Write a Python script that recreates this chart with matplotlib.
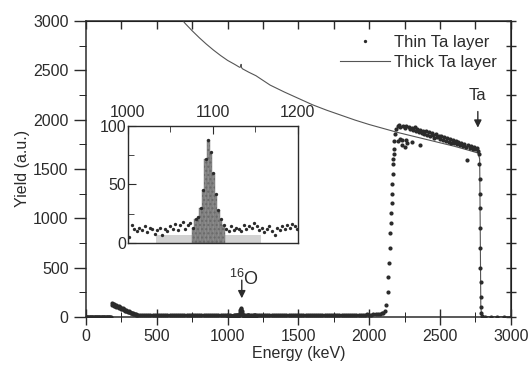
import numpy as np
import matplotlib
matplotlib.use("Agg")
import matplotlib.pyplot as plt
from matplotlib.ticker import MultipleLocator

plt.rcParams['font.family'] = ['Liberation Sans', 'DejaVu Sans']
plt.rcParams['mathtext.fontset'] = 'custom'
plt.rcParams['mathtext.rm'] = 'Liberation Sans'
plt.rcParams['mathtext.it'] = 'Liberation Sans'

INK = '#2b2b2b'

# thin Ta layer (dots), piece by piece
zero_E = np.arange(0, 180, 5)
zero_Y = np.zeros(len(zero_E))

low_E = np.arange(180, 361, 5)
low_Y = [140, 118, 135, 112, 128, 105, 122, 100, 115, 95,
         108, 88, 100, 82, 92, 76, 85, 70, 78, 64,
         70, 58, 62, 52, 55, 46, 48, 40, 42, 35,
         36, 30, 30, 26, 24, 22, 20]

flatA_E = np.arange(365, 1000, 15)
flatA_Y = [22, 18, 20, 17, 21, 16, 19, 18, 15, 20,
           17, 19, 16, 18, 21, 15, 17, 19, 16, 18,
           14, 20, 17, 16, 19, 15, 18, 17, 20, 16,
           14, 18, 19, 15, 17, 16, 20, 18, 15, 17,
           19, 16, 18]

# 16O region (also shown in the inset)
inset_Y = [5, 15, 12, 10, 13, 11, 14, 9, 13, 12,
           8, 11, 13, 7, 12, 10, 14, 12, 16, 11,
           15, 18, 12, 15, 17, 13, 20, 22, 30, 45,
           72, 88, 78, 60, 42, 28, 20, 15, 12, 10,
           14, 11, 13, 12, 10, 15, 12, 14, 13, 17,
           14, 11, 13, 9, 12, 14, 10, 7, 13, 11,
           14, 12, 15, 13, 16, 14, 12]
inset_E = np.arange(1000, 1000 + 3 * len(inset_Y), 3)

flatB_E = np.arange(1205, 2091, 15)
flatB_Y = [16, 19, 15, 18, 17, 20, 16, 18, 14, 19,
           17, 15, 18, 20, 16, 17, 19, 15, 18, 16,
           20, 17, 15, 19, 18, 16, 21, 17, 15, 18,
           19, 16, 17, 20, 18, 15, 19, 17, 16, 21,
           18, 17, 20, 16, 19, 22, 18, 20, 17, 23,
           21, 19, 24, 20, 22, 26, 24, 28, 32, 36]

rise_E = [2100, 2110, 2120, 2130, 2135, 2140, 2145, 2150, 2152, 2155,
          2158, 2160, 2163, 2165, 2168, 2170, 2172, 2175, 2178, 2182]
rise_Y = [40, 60, 120, 250, 400, 550, 700, 850, 950, 1050,
          1150, 1250, 1350, 1450, 1550, 1600, 1650, 1700, 1780, 1850]

plat_E = np.arange(2190, 2771, 10)
plat_Y = [1900, 1935, 1950, 1925, 1790, 1940, 1910, 1935, 1760, 1925,
          1900, 1915, 1890, 1920, 1880, 1905, 1870, 1895, 1860, 1885,
          1850, 1880, 1845, 1870, 1835, 1860, 1840, 1815, 1850, 1820,
          1835, 1800, 1830, 1795, 1820, 1785, 1810, 1775, 1800, 1765,
          1790, 1760, 1780, 1750, 1775, 1740, 1765, 1735, 1755, 1725,
          1590, 1740, 1715, 1735, 1705, 1725, 1700, 1710, 1680]

extra_E = [2205, 2215, 2228, 2252, 2262, 2300, 2357]
extra_Y = [1780, 1800, 1740, 1722, 1790, 1770, 1743]

fall_E = [2775, 2778, 2780, 2781, 2782, 2783, 2784, 2785, 2786, 2787,
          2788, 2790, 2795, 2820, 2860, 2900, 2950, 3000]
fall_Y = [1650, 1550, 1400, 1250, 1100, 900, 700, 500, 350, 200,
          100, 40, 10, 2, 0, 0, 0, 0]

# thick Ta layer (line)
thick_E = [680, 700, 750, 800, 850, 900, 950, 1000, 1050, 1085,
           1092, 1095, 1098, 1105, 1150, 1200, 1300, 1400, 1500, 1600,
           1700, 1800, 1900, 2000, 2100, 2200, 2300, 2400, 2500, 2600,
           2700, 2770, 2780, 2784, 2788, 2795, 2900, 3000]
thick_Y = [3010, 2975, 2900, 2830, 2765, 2705, 2650, 2600, 2560, 2530,
           2535, 2560, 2528, 2515, 2480, 2445, 2350, 2280, 2215, 2150,
           2095, 2045, 1995, 1950, 1910, 1870, 1835, 1800, 1765, 1730,
           1690, 1660, 1600, 900, 100, 5, 0, 0]

# inset shading ranges (background / peak window)
light_ranges = [(1032, 1075), (1112, 1155)]
peak_range = (1075, 1112)
bg_level = 7

thin_E = np.concatenate([zero_E, low_E, flatA_E, inset_E, flatB_E,
                         rise_E, plat_E, extra_E, fall_E])
thin_Y = np.concatenate([zero_Y, low_Y, flatA_Y, inset_Y, flatB_Y,
                         rise_Y, plat_Y, extra_Y, fall_Y])

fig = plt.figure(figsize=(5.31, 3.68), dpi=100)
ax = fig.add_axes([0.162, 0.139, 0.800, 0.804])

ax.plot(thick_E, thick_Y, '-', color='#555555', lw=0.8, label='Thick Ta layer')
ax.plot(thin_E, thin_Y, 'o', color=INK, ms=3.0, mew=0, label='Thin Ta layer')

ax.set_xlim(0, 3000)
ax.set_ylim(0, 3000)
ax.xaxis.set_major_locator(MultipleLocator(500))
ax.xaxis.set_minor_locator(MultipleLocator(250))
ax.yaxis.set_major_locator(MultipleLocator(500))
ax.yaxis.set_minor_locator(MultipleLocator(250))
ax.tick_params(axis='both', labelsize=11.5, colors=INK, width=1)
ax.tick_params(axis='y', which='major', direction='out', length=9)
ax.tick_params(axis='y', which='minor', direction='out', length=5)
ax.tick_params(axis='x', which='major', direction='inout', length=11)
ax.tick_params(axis='x', which='minor', direction='inout', length=7)
for sp in ax.spines.values():
    sp.set_color(INK)
    sp.set_linewidth(1.1)

# top ticks point inward, right ticks cross the spine
secx = ax.secondary_xaxis('top')
secx.set_xticks(np.arange(0, 3001, 250))
secx.tick_params(direction='in', length=6, width=1, labeltop=False, colors=INK)
secy = ax.secondary_yaxis('right')
secy.set_yticks(np.arange(0, 3001, 250))
secy.tick_params(direction='inout', length=7, width=1, labelright=False, colors=INK)

ax.set_xlabel('Energy (keV)', fontsize=11.5, color=INK, labelpad=1)
ax.set_ylabel('Yield (a.u.)', fontsize=11.5, color=INK, labelpad=2)

h, l = ax.get_legend_handles_labels()
ax.legend([h[1], h[0]], [l[1], l[0]], loc='upper right', frameon=False,
          fontsize=12, handlelength=3.0, handletextpad=0.2, borderaxespad=0.45,
          labelspacing=0.3, markerscale=0.8, labelcolor=INK)

# annotations
ax.annotate('', xy=(1100, 160), xytext=(1100, 400),
            arrowprops=dict(arrowstyle='-|>', color=INK, lw=1, mutation_scale=11))
ax.text(1118, 318, r'$^{16}$O', ha='center', va='baseline', fontsize=13, color=INK)
ax.annotate('', xy=(2767, 1890), xytext=(2767, 2110),
            arrowprops=dict(arrowstyle='-|>', color=INK, lw=1, mutation_scale=11))
ax.text(2767, 2170, 'Ta', ha='center', va='bottom', fontsize=12, color=INK)

# inset
ins = fig.add_axes([0.241, 0.340, 0.320, 0.318])
inset_E = np.asarray(inset_E)
inset_Y = np.asarray(inset_Y)
for lo, hi in light_ranges:
    m = (inset_E >= lo) & (inset_E < hi)
    ins.bar(inset_E[m], np.full(m.sum(), bg_level), width=3, align='edge',
            color='#d2d2d2', edgecolor='none')
m = (inset_E >= peak_range[0]) & (inset_E < peak_range[1])
ins.bar(inset_E[m], inset_Y[m], width=3, align='edge', color='#8c8c8c',
        edgecolor='#6a6a6a', linewidth=0.3, hatch='....')
ins.plot(inset_E + 1.5, inset_Y, 'o', color=INK, ms=2.4, mew=0)
ins.set_xlim(1000, 1200)
ins.set_ylim(0, 100)
ins.xaxis.set_major_locator(MultipleLocator(100))
ins.xaxis.set_minor_locator(MultipleLocator(50))
ins.yaxis.set_major_locator(MultipleLocator(50))
ins.yaxis.set_minor_locator(MultipleLocator(25))
ins.xaxis.tick_top()
ins.tick_params(axis='both', which='major', direction='in', length=6,
                labelsize=11.5, colors=INK)
ins.tick_params(axis='x', which='major', pad=4)
ins.tick_params(axis='y', which='major', pad=1.5)
ins.tick_params(axis='both', which='minor', direction='in', length=4, colors=INK)
ins.tick_params(axis='y', which='both', right=False)
ins.tick_params(axis='x', which='both', bottom=False)
for sp in ins.spines.values():
    sp.set_color(INK)
    sp.set_linewidth(1.0)

fig.savefig('out.png', dpi=100)
